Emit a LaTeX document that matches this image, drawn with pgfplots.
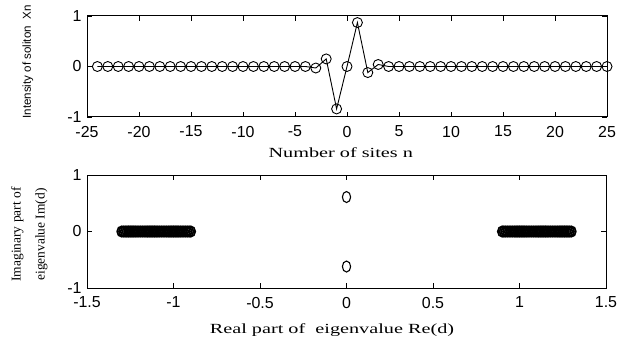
\documentclass[border=0pt]{standalone}
\usepackage{pgfplots}
\pgfplotsset{compat=1.18}
\usepackage{graphicx}
\usepackage{fontspec}
\setmainfont{Liberation Serif}
\newfontfamily\arial{Liberation Sans}
\pgfplotstableread{
n x
-24 0
-23 0
-22 0
-21 0
-20 0
-19 0
-18 0
-17 0
-16 0
-15 0
-14 0
-13 0
-12 0
-11 0
-10 0
-9 0
-8 0
-7 0
-6 0
-5 0
-4 0
-3 -0.03
-2 0.15
-1 -0.84
0 0.0
1 0.87
2 -0.12
3 0.04
4 0
5 0
6 0
7 0
8 0
9 0
10 0
11 0
12 0
13 0
14 0
15 0
16 0
17 0
18 0
19 0
20 0
21 0
22 0
23 0
24 0
25 0
}\soliton
\pgfplotstableread{
re im
-1.30 0
-1.29 0
-1.28 0
-1.27 0
-1.26 0
-1.25 0
-1.24 0
-1.23 0
-1.22 0
-1.21 0
-1.20 0
-1.19 0
-1.18 0
-1.17 0
-1.16 0
-1.15 0
-1.14 0
-1.13 0
-1.12 0
-1.11 0
-1.10 0
-1.09 0
-1.08 0
-1.07 0
-1.06 0
-1.05 0
-1.04 0
-1.03 0
-1.02 0
-1.01 0
-1.00 0
-0.99 0
-0.98 0
-0.97 0
-0.96 0
-0.95 0
-0.94 0
-0.93 0
-0.92 0
-0.91 0
-0.90 0
0.90 0
0.91 0
0.92 0
0.93 0
0.94 0
0.95 0
0.96 0
0.97 0
0.98 0
0.99 0
1.00 0
1.01 0
1.02 0
1.03 0
1.04 0
1.05 0
1.06 0
1.07 0
1.08 0
1.09 0
1.10 0
1.11 0
1.12 0
1.13 0
1.14 0
1.15 0
1.16 0
1.17 0
1.18 0
1.19 0
1.20 0
1.21 0
1.22 0
1.23 0
1.24 0
1.25 0
1.26 0
1.27 0
1.28 0
1.29 0
1.30 0
}\eigenreal
\pgfplotstableread{
re im
0 0.61
0 -0.62
}\eigenimag
\begin{document}
\begin{tikzpicture}[x=1bp,y=1bp]
\useasboundingbox (0,0) rectangle (627,339);
\pgfplotsset{
  every axis/.append style={
    scale only axis,
    anchor=south west,
    axis line style={line width=1bp},
    major tick length=5bp,
    tick style={line width=0.9bp, black},
    ticklabel style={font=\arial\fontsize{16}{17}\selectfont, inner sep=0pt},
    xticklabel style={yshift=-8.8bp},
    yticklabel style={xshift=-5.3bp},
    /pgf/number format/assume math mode=true,
  }
}
\begin{axis}[
  at={(87bp,222bp)},
  width=520bp, height=101bp,
  xmin=-25, xmax=25, ymin=-1, ymax=1,
  xtick={-25,-20,-15,-10,-5,0,5,10,15,20,25},
  xticklabels={-25,-20,-15,-10,-5,0,5,10,15,20,25},
  ytick={-1,0,1}, yticklabels={-1,0,1},
  xlabel={\scalebox{1.45}[1]{Number of sites n}},
  ylabel={Intensity of soliton\ \ Xn},
  xlabel style={font=\fontsize{14}{15}\selectfont, at={(rel axis cs:0.488,0)}, anchor=base, yshift=-40bp},
  ylabel style={font=\arial\fontsize{11.6}{12}\selectfont, at={(rel axis cs:-0.1135,0.545)}, anchor=center},
]
\addplot[black, line width=0.9bp, mark=o, mark size=5bp, mark options={line width=0.9bp}] table[x=n,y=x] {\soliton};
\end{axis}
\begin{axis}[
  at={(87bp,51bp)},
  width=519bp, height=113bp,
  xmin=-1.5, xmax=1.5, ymin=-1, ymax=1,
  xtick={-1.5,-1,-0.5,0,0.5,1,1.5},
  xticklabels={-1.5,-1,-0.5,0,0.5,1,1.5},
  ytick={-1,0,1}, yticklabels={-1,0,1},
  xlabel={\scalebox{1.45}[1]{Real part of\ \ eigenvalue Re(d)}},
  ylabel={Imaginary part of\\eigenvalue Im(d)},
  xlabel style={font=\fontsize{14}{15}\selectfont, at={(rel axis cs:0.472,0)}, anchor=base, yshift=-45bp},
  ylabel style={font=\fontsize{13.5}{24}\selectfont, align=center, at={(rel axis cs:-0.111,0.473)}, anchor=center},
]
\addplot[only marks, black, mark=o, mark size=5.2bp, mark options={line width=1.7bp, xscale=0.85}] table[x=re,y=im] {\eigenreal};
\addplot[only marks, black, mark=o, mark size=5.5bp, mark options={line width=1.1bp, xscale=0.75}] table[x=re,y=im] {\eigenimag};
\end{axis}
\end{tikzpicture}
\end{document}
